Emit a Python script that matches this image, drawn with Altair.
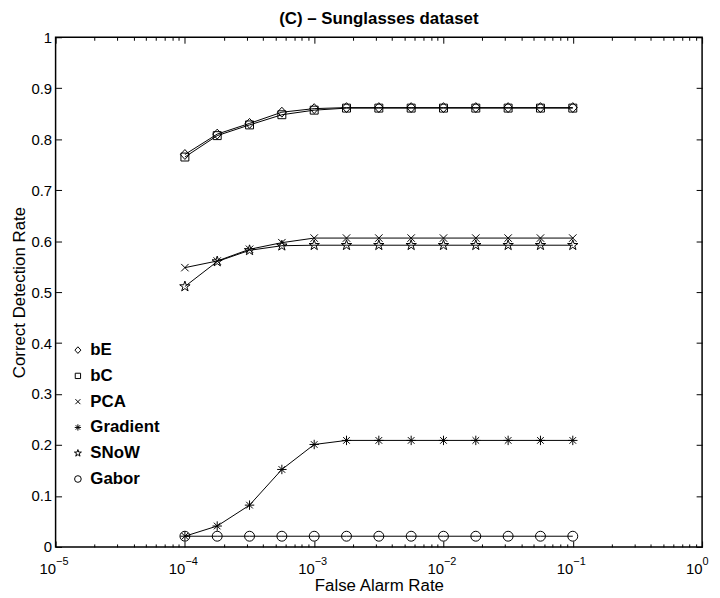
import altair as alt
import pandas as pd

# False alarm rate sample positions (quarter decades from 1e-4 to 1e-1)
far = [1e-4, 1.778e-4, 3.162e-4, 5.623e-4, 1e-3, 1.778e-3, 3.162e-3,
       5.623e-3, 1e-2, 1.778e-2, 3.162e-2, 5.623e-2, 1e-1]

series_names = ["bE", "bC", "PCA", "Gradient", "SNoW", "Gabor"]

bE = [0.770, 0.810, 0.831, 0.853, 0.860, 0.862, 0.862, 0.862, 0.862, 0.862, 0.862, 0.862, 0.862]
bC = [0.765, 0.807, 0.828, 0.848, 0.857, 0.861, 0.861, 0.861, 0.861, 0.861, 0.861, 0.861, 0.861]
PCA = [0.548, 0.561, 0.584, 0.597, 0.606, 0.606, 0.606, 0.606, 0.606, 0.606, 0.606, 0.606, 0.606]
Gradient = [0.021, 0.041, 0.082, 0.152, 0.201, 0.209, 0.209, 0.209, 0.209, 0.209, 0.209, 0.209, 0.209]
SNoW = [0.511, 0.560, 0.582, 0.591, 0.592, 0.592, 0.592, 0.592, 0.592, 0.592, 0.592, 0.592, 0.592]
Gabor = [0.021, 0.021, 0.021, 0.021, 0.021, 0.021, 0.021, 0.021, 0.021, 0.021, 0.021, 0.021, 0.021]

values_by_series = [bE, bC, PCA, Gradient, SNoW, Gabor]

x_major = [1e-5, 1e-4, 1e-3, 1e-2, 1e-1, 1]
x_tick_exponents = ["\u22125", "\u22124", "\u22123", "\u22122", "\u22121", "0"]
x_all_ticks = [m * d for d in [1e-5, 1e-4, 1e-3, 1e-2, 1e-1] for m in range(1, 10)] + [1]
y_ticks = [0, 0.1, 0.2, 0.3, 0.4, 0.5, 0.6, 0.7, 0.8, 0.9, 1]

STAR = ("M0,-1.1L0.247,-0.34L1.046,-0.34L0.399,0.13L0.647,0.89L0,0.42"
        "L-0.647,0.89L-0.399,0.13L-1.046,-0.34L-0.247,-0.34Z")
ASTERISK = "M-0.95,0L0.95,0M0,-0.95L0,0.95M-0.67,-0.67L0.67,0.67M-0.67,0.67L0.67,-0.67"
XMARK = "M-0.75,-0.75L0.75,0.75M-0.75,0.75L0.75,-0.75"
SQUARE = "M-0.8,-0.8L0.8,-0.8L0.8,0.8L-0.8,0.8Z"
DIAMOND = "M0,-1L0.9,0L0,1L-0.9,0Z"
shapes = [DIAMOND, SQUARE, XMARK, ASTERISK, STAR, "circle"]

rows = []
for name, vals in zip(series_names, values_by_series):
    for k, (xv, yv) in enumerate(zip(far, vals)):
        rows.append({"series": name, "far": xv, "rate": yv, "k": k})
df = pd.DataFrame(rows)

W, H = 652, 514
FONT = "Liberation Sans"

xscale = alt.Scale(type="log", domain=[1e-5, 1], nice=False)
yscale = alt.Scale(domain=[0, 1], nice=False)

exp_expr = "[" + ",".join("'%s'" % s for s in x_tick_exponents) + "][round(log(datum.value)/LN10)+5]"

major_test = "abs(log(datum.value)/LN10 - round(log(datum.value)/LN10)) < 0.000001"
tick_size_cond = {"condition": {"test": major_test, "value": 6}, "value": 3}

base = alt.Chart(df)

lines = base.mark_line(color="black", strokeWidth=1).encode(
    x=alt.X("far:Q", scale=xscale, axis=alt.Axis(
        orient="bottom", values=x_major, labelExpr="'10'", ticks=False, tickSize=0,
        domain=False, grid=False, labelFont=FONT, labelFontSize=15, labelColor="black",
        labelPadding=15, labelAlign="right", labelFlush=False, labelOverlap=False,
        title="False Alarm Rate", titleFont=FONT, titleFontSize=17,
        titleFontWeight="normal", titleColor="black", titlePadding=1)),
    y=alt.Y("rate:Q", scale=yscale, axis=alt.Axis(
        orient="left", values=y_ticks, format="~g", ticks=False, tickSize=0,
        domain=False, grid=False, labelFont=FONT, labelFontSize=15, labelColor="black",
        labelPadding=4, labelFlush=False, labelOverlap=False,
        title="Correct Detection Rate", titleFont=FONT, titleFontSize=17,
        titleFontWeight="normal", titleColor="black", titlePadding=3)),
    detail="series:N",
    order="k:Q",
)

points = base.mark_point(filled=False, color="black", strokeWidth=1, opacity=1, size=100).encode(
    x=alt.X("far:Q", scale=xscale, axis=alt.Axis(
        orient="top", offset=-H, values=x_all_ticks, labels=False, domain=False, grid=False,
        ticks=True, tickSize=tick_size_cond, tickColor="black", tickWidth=1, title=None)),
    y=alt.Y("rate:Q", scale=yscale, axis=alt.Axis(
        orient="right", offset=-W, values=y_ticks, labels=False, domain=False, grid=False,
        ticks=True, tickSize=6, tickColor="black", tickWidth=1, title=None)),
    shape=alt.Shape("series:N", scale=alt.Scale(domain=series_names, range=shapes),
                    legend=alt.Legend(orient="none", legendX=14, legendY=307, title=None,
                                      labelFont=FONT, labelFontSize=17, labelFontWeight="bold",
                                      labelColor="black", symbolSize=45, symbolStrokeWidth=1,
                                      symbolStrokeColor="black", symbolFillColor="transparent",
                                      rowPadding=8, labelOffset=4, padding=0)),
)

frame = base.mark_point(opacity=0).encode(
    x=alt.X("far:Q", scale=xscale, axis=alt.Axis(
        orient="bottom", offset=-H, values=x_all_ticks, labels=False, domain=False, grid=False,
        ticks=True, tickSize=tick_size_cond, tickColor="black", tickWidth=1, title=None)),
    y=alt.Y("rate:Q", scale=yscale, axis=alt.Axis(
        orient="left", offset=-W, values=y_ticks, labels=False, domain=False, grid=False,
        ticks=True, tickSize=6, tickColor="black", tickWidth=1, title=None)),
)

exponents = base.mark_point(opacity=0).encode(
    x=alt.X("far:Q", scale=xscale, axis=alt.Axis(
        orient="bottom", values=x_major, labelExpr=exp_expr, ticks=False, tickSize=0,
        domain=False, grid=False, labelFont=FONT, labelFontSize=11, labelColor="black",
        labelPadding=9, labelAlign="left", labelFlush=False, labelOverlap=False, title=None)),
    y=alt.Y("rate:Q", scale=yscale, axis=None),
)

chart = alt.layer(lines, points, frame, exponents).resolve_scale(
    x="independent", y="independent"
).properties(
    width=W, height=H,
    title=alt.TitleParams("(C) \u2013 Sunglasses dataset", font=FONT, fontSize=17,
                          fontWeight="bold", color="black", offset=2, anchor="middle"),
    padding={"left": 48, "top": 27, "right": 10, "bottom": 50},
    autosize=alt.AutoSizeParams(type="none"),
).configure_view(stroke="black", strokeWidth=1.5)

chart.save("out.html", embed_options={"renderer": "svg", "actions": False})
